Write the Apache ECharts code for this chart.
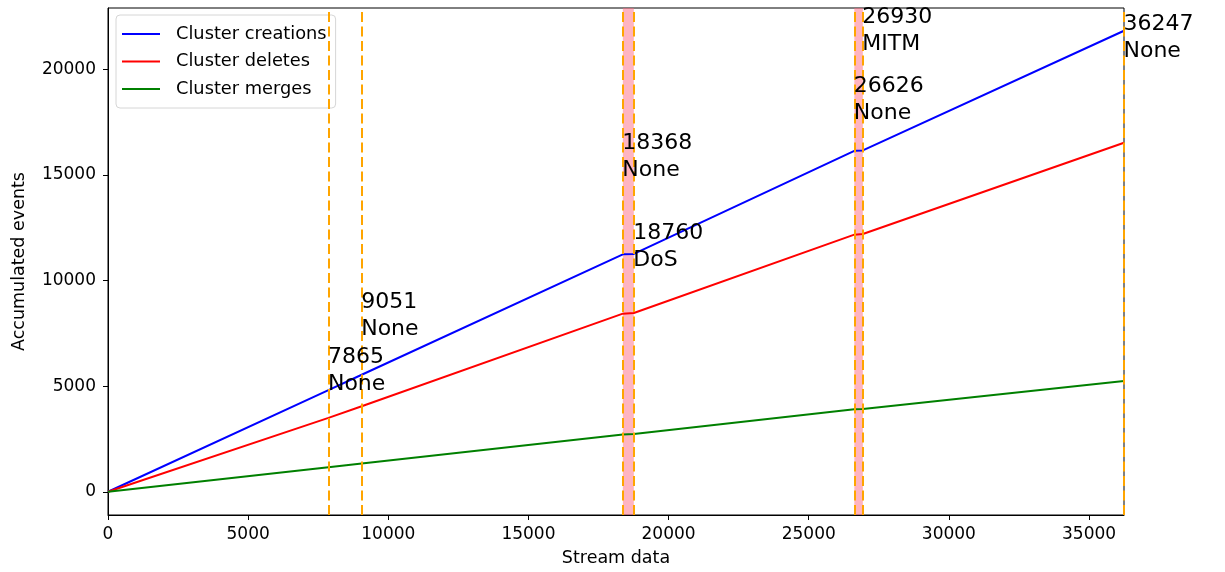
<!DOCTYPE html>
<html>
<head>
<meta charset="utf-8">
<script src="https://cdn.jsdelivr.net/npm/echarts@6/dist/echarts.min.js"></script>
<style>
  html, body { margin: 0; padding: 0; background: #fff; }
  #chart { width: 1225px; height: 572px; }
</style>
</head>
<body>
<div id="chart"></div>
<script>
// Stream positions where events were flagged, and accumulated counts at those positions
const streamPos   = [0, 7865, 9051, 18368, 18760, 26626, 26930, 36247];
const creations   = [0, 4813, 5539, 11240, 11260, 16140, 16160, 21824];
const deletes     = [0, 3500, 4050, 8430, 8460, 12170, 12200, 16520];
const merges      = [0, 1162, 1338, 2714, 2730, 3905, 3920, 5238];

// Event markers: position, detected attack and annotation height
const eventPos    = [7865, 9051, 18368, 18760, 26626, 26930, 36247];
const eventType   = ['None', 'None', 'None', 'DoS', 'None', 'MITM', 'None'];
const eventTextY  = [4720, 7290, 14860, 10570, 17520, 20810, 20480];

// Highlighted windows between paired events
const bands = [[18368, 18760], [26626, 26930]];

const xTicks = [0, 5000, 10000, 15000, 20000, 25000, 30000, 35000];
const yTicks = [0, 5000, 10000, 15000, 20000];

const pairs = (ys) => streamPos.map((x, i) => [x, ys[i]]);
const plain = (v) => String(Math.round(v));

const chart = echarts.init(document.getElementById('chart'), null, { renderer: 'canvas' });

const font = 'DejaVu Sans';

chart.setOption({
  animation: false,
  backgroundColor: '#fff',
  textStyle: { fontFamily: font },
  grid: {
    left: 108, right: 101, top: 8, bottom: 55,
    show: true, borderColor: '#000', borderWidth: 1, backgroundColor: 'transparent'
  },
  legend: {
    data: ['Cluster creations', 'Cluster deletes', 'Cluster merges'],
    orient: 'vertical',
    left: 116, top: 15,
    padding: [9, 9, 9, 6],
    itemWidth: 38, itemHeight: 14, itemGap: 7.5,
    borderColor: '#d6d6d6', borderWidth: 1, borderRadius: 4,
    backgroundColor: 'rgba(255,255,255,0.85)',
    icon: 'path://M0,6 L38,6 L38,8 L0,8 Z',
    textStyle: { fontFamily: font, fontSize: 17.8, color: '#000', padding: [0, 0, 0, 11], lineHeight: 20 }
  },
  xAxis: {
    type: 'value',
    min: 0, max: 36247,
    name: 'Stream data', nameLocation: 'middle', nameGap: 34,
    nameTextStyle: { fontFamily: font, fontSize: 17.5, color: '#000' },
    splitLine: { show: false },
    axisLine: { show: true, onZero: false, lineStyle: { color: '#000', width: 1 } },
    axisTick: { show: true, length: 5, customValues: xTicks, lineStyle: { color: '#000' } },
    axisLabel: { customValues: xTicks, formatter: plain, margin: 11, fontFamily: font, fontSize: 17, color: '#000' }
  },
  yAxis: {
    type: 'value',
    min: -1100, max: 22900,
    name: 'Accumulated events', nameLocation: 'middle', nameGap: 80, nameRotate: 90,
    nameTextStyle: { fontFamily: font, fontSize: 17.5, color: '#000' },
    splitLine: { show: false },
    axisLine: { show: true, onZero: false, lineStyle: { color: '#000', width: 1 } },
    axisTick: { show: true, length: 5, customValues: yTicks, lineStyle: { color: '#000' } },
    axisLabel: { customValues: yTicks, formatter: plain, margin: 12, fontFamily: font, fontSize: 17, color: '#000' }
  },
  series: [
    {
      name: 'Cluster creations', type: 'line', data: pairs(creations),
      symbol: 'none', lineStyle: { color: '#0000ff', width: 2 }, itemStyle: { color: '#0000ff' }, z: 2
    },
    {
      name: 'Cluster deletes', type: 'line', data: pairs(deletes),
      symbol: 'none', lineStyle: { color: '#ff0000', width: 2 }, itemStyle: { color: '#ff0000' }, z: 2
    },
    {
      name: 'Cluster merges', type: 'line', data: pairs(merges),
      symbol: 'none', lineStyle: { color: '#008000', width: 2 }, itemStyle: { color: '#008000' }, z: 2
    },
    {
      // dashed marker at every flagged position
      name: 'events', type: 'line', data: [], z: 3,
      markLine: {
        silent: true, symbol: 'none', animation: false,
        label: { show: false },
        lineStyle: { color: '#ffa500', width: 2, type: [10, 4.5] },
        data: eventPos.map(x => ({ xAxis: x }))
      }
    },
    {
      // translucent windows between paired events
      name: 'windows', type: 'line', data: [], z: 4,
      markArea: {
        silent: true,
        itemStyle: { color: 'rgba(255,105,130,0.5)' },
        data: bands.map(b => [{ xAxis: b[0] }, { xAxis: b[1] }])
      }
    },
    {
      // position / attack annotations
      name: 'annotations', type: 'scatter', z: 6,
      symbolSize: 1,
      itemStyle: { color: 'rgba(0,0,0,0)', opacity: 1 },
      emphasis: { disabled: true },
      data: eventPos.map((x, i) => [x, eventTextY[i], eventType[i]]),
      label: {
        show: true,
        position: [0, 6],
        align: 'left', verticalAlign: 'bottom',
        fontFamily: font, fontSize: 22, lineHeight: 27,
        color: '#000', opacity: 1, textBorderWidth: 0,
        formatter: p => p.value[0] + '\n' + p.value[2]
      }
    }
  ]
});
</script>
</body>
</html>
